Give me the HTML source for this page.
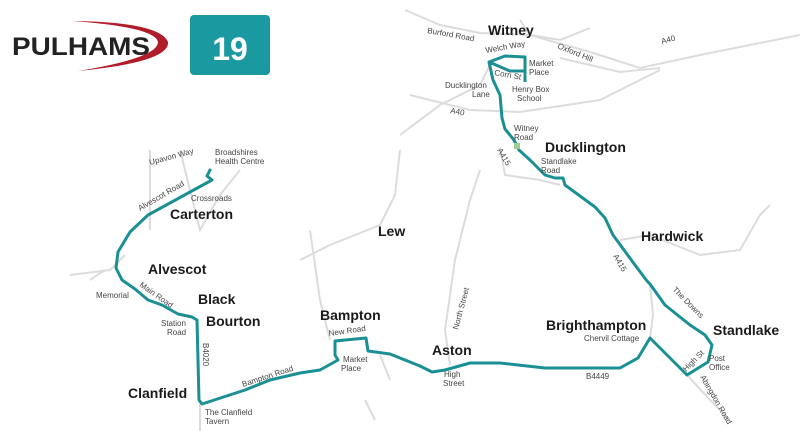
<!DOCTYPE html>
<html><head><meta charset="utf-8"><style>
html,body{margin:0;padding:0;background:#fff}
svg{display:block}
text{font-family:"Liberation Sans",sans-serif}
.n{font-size:14px;font-weight:bold;fill:#1a1a1a}
.s{font-size:8px;fill:#444}
</style></head><body>
<svg width="800" height="431" viewBox="0 0 800 431">
<g fill="none" stroke="#dcdcdc" stroke-width="2">
<path d="M405,10 L440,25 L480,33 L530,35 L590,52 L640,68 L700,55 L800,35"/>
<path d="M560,58 L620,72 L660,68"/>
<path d="M410,95 L470,110 L520,112 L600,100 L660,70"/>
<path d="M400,135 L440,105 L480,85 L490,65"/>
<path d="M520,20 L530,35 L560,40 L590,28"/>
<path d="M500,148 L505,175 L540,180 L560,185"/>
<path d="M480,170 L470,200 L455,260 L445,330 L450,365"/>
<path d="M300,260 L330,245 L380,225 L395,195 L400,150"/>
<path d="M310,230 L320,300 L330,340"/>
<path d="M380,355 L390,380"/>
<path d="M632,262 L650,285 L653,315 L650,338"/>
<path d="M620,240 L650,235 L700,255 L740,250 L760,215 L770,205"/>
<path d="M687,375 L710,400 L730,420"/>
<path d="M150,150 L150,230 M180,150 L200,230 L220,195 L240,170"/>
<path d="M70,275 L110,270 L125,255 M90,280 L105,270"/>
<path d="M200,404 L200,431"/>
<path d="M365,400 L375,420"/>
</g>
<path fill="none" stroke="#1a9095" stroke-width="3" stroke-linejoin="round" stroke-linecap="round"
d="M210,170 L207,176 L212,180 L148,215 L130,232 L118,252 L116,268 L122,280 L135,289 L148,300 L162,305 L178,314 L192,317 L197,320 L199,400 L202,404 L245,390 L270,380 L300,373 L320,370 L338,360 L335,355 L335,341 L366,338 L368,351 L390,354 L420,366 L432,372 L445,370 L470,363 L500,363 L545,368 L620,368 L638,358 L650,338 L687,375 L708,362 L712,345 L705,335 L690,325 L665,305 L650,284 L647,281 L635,265 L613,235 L605,218 L595,207 L565,185 L563,178 L555,178 L545,175 L530,160 L519,150 L514,140 L505,129 L502,118 L500,95 L493,80 L489,62 L505,56 L525,57 L525,71 L510,71 L489,62"/>
<path fill="none" stroke="#1a9095" stroke-width="3" d="M525,58 L525,82"/>
<rect x="514" y="143" width="6" height="6" fill="#9ccf8f"/>
<path d="M72,21 Q160,22 168,42 Q170,62 78,71 Q158,58 158,42 Q155,27 72,21Z" fill="#b01c2a"/>
<text x="12" y="55" font-size="25" font-weight="bold" fill="#222" textLength="138" lengthAdjust="spacingAndGlyphs">PULHAMS</text>
<rect x="190" y="15" width="80" height="60" rx="4" fill="#1a9aa0"/>
<text x="230" y="60" text-anchor="middle" font-size="32" font-weight="bold" fill="#fff">19</text>
<text class="n" x="488" y="35">Witney</text>
<text class="n" x="545" y="152">Ducklington</text>
<text class="n" x="641" y="241">Hardwick</text>
<text class="n" x="713" y="335">Standlake</text>
<text class="n" x="546" y="330">Brighthampton</text>
<text class="n" x="432" y="355">Aston</text>
<text class="n" x="320" y="320">Bampton</text>
<text class="n" x="378" y="236">Lew</text>
<text class="n" x="198" y="304">Black</text>
<text class="n" x="206" y="326">Bourton</text>
<text class="n" x="148" y="274">Alvescot</text>
<text class="n" x="170" y="219">Carterton</text>
<text class="n" x="128" y="398">Clanfield</text>
<g class="s">
<text x="427" y="33" transform="rotate(10 427 33)">Burford Road</text>
<text x="557" y="48" transform="rotate(22 557 48)">Oxford Hill</text>
<text x="662" y="44" transform="rotate(-15 662 44)">A40</text>
<text x="486" y="53" transform="rotate(-10 486 53)">Welch Way</text>
<text x="494" y="75" transform="rotate(10 494 75)">Corn St</text>
<text x="529" y="66">Market</text><text x="529" y="75">Place</text>
<text x="512" y="92">Henry Box</text><text x="517" y="101">School</text>
<text x="445" y="88">Ducklington</text><text x="472" y="97">Lane</text>
<text x="450" y="113" transform="rotate(10 450 113)">A40</text>
<text x="514" y="131">Witney</text><text x="514" y="140">Road</text>
<text x="541" y="164">Standlake</text><text x="541" y="173">Road</text>
<text x="497" y="150" transform="rotate(60 497 150)">A415</text>
<text x="613" y="256" transform="rotate(60 613 256)">A415</text>
<text x="672" y="290" transform="rotate(45 672 290)">The Downs</text>
<text x="686" y="372" transform="rotate(-45 686 372)">High St</text>
<text x="709" y="361">Post</text><text x="709" y="370">Office</text>
<text x="700" y="377" transform="rotate(60 700 377)">Abingdon Road</text>
<text x="584" y="341">Chervil Cottage</text>
<text x="586" y="379">B4449</text>
<text x="444" y="377">High</text><text x="443" y="386">Street</text>
<text x="458" y="330" transform="rotate(-75 458 330)">North Street</text>
<text x="329" y="336" transform="rotate(-8 329 336)">New Road</text>
<text x="343" y="362">Market</text><text x="341" y="371">Place</text>
<text x="243" y="387" transform="rotate(-18 243 387)">Bampton Road</text>
<text x="205" y="415">The Clanfield</text><text x="205" y="424">Tavern</text>
<text x="203" y="343" transform="rotate(90 203 343)">B4020</text>
<text x="161" y="326">Station</text><text x="167" y="335">Road</text>
<text x="96" y="298">Memorial</text>
<text x="139" y="286" transform="rotate(35 139 286)">Main Road</text>
<text x="140" y="211" transform="rotate(-30 140 211)">Alvescot Road</text>
<text x="191" y="201">Crossroads</text>
<text x="150" y="165" transform="rotate(-15 150 165)">Upavon Way</text>
<text x="215" y="155">Broadshires</text><text x="215" y="164">Health Centre</text>
</g>
</svg>
</body></html>
